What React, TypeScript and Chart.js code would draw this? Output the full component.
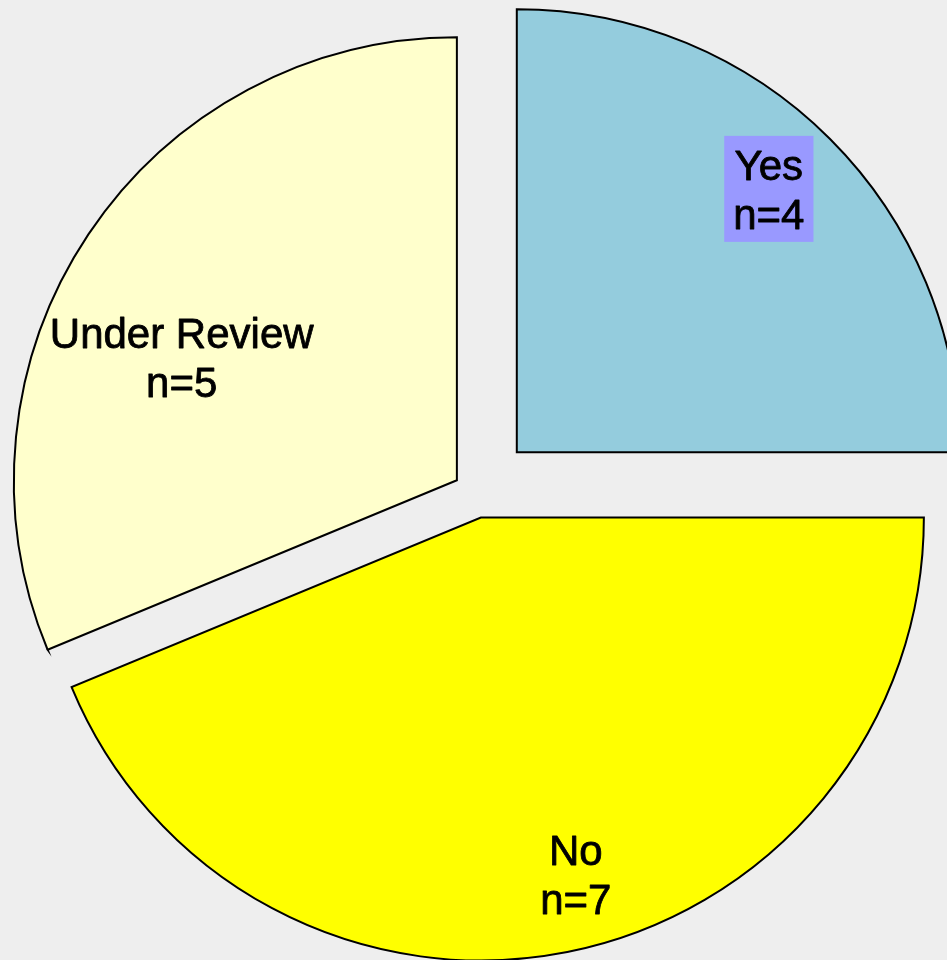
import React, { useEffect, useRef } from "react";
import { Chart, registerables } from "chart.js";

Chart.register(...registerables);

// ---- data ----
const categories = ["Yes", "No", "Under Review"];
const counts = [4, 7, 5];
const sliceColors = ["#94CCDD", "#FFFF00", "#FFFFCC"];
const labelBoxColors: (string | null)[] = ["#9999FF", null, null];

// ---- layout (not data) ----
const explodePx = [57.7, 25, 23];
const labelAngleDeg = [43.8, 165.1, 294];
const labelRadiusFrac = [0.822, 0.833, 0.68];
const FONT = '42px "Liberation Sans", Arial, sans-serif';

const explodePlugin = {
  id: "explodeSlices",
  afterDatasetUpdate(chart: any, args: any) {
    const meta = args.meta;
    meta.data.forEach((arc: any, i: number) => {
      const mid = (arc.startAngle + arc.endAngle) / 2;
      const d = explodePx[i] || 0;
      arc.x += Math.cos(mid) * d;
      arc.y += Math.sin(mid) * d;
    });
  },
};

const labelPlugin = {
  id: "sliceLabels",
  afterDatasetsDraw(chart: any) {
    const ctx = chart.ctx as CanvasRenderingContext2D;
    const meta = chart.getDatasetMeta(0);
    ctx.save();
    ctx.font = FONT;
    ctx.textAlign = "center";
    ctx.textBaseline = "alphabetic";
    meta.data.forEach((arc: any, i: number) => {
      const a = ((labelAngleDeg[i] - 90) * Math.PI) / 180;
      const r = arc.outerRadius * labelRadiusFrac[i];
      const cx = arc.x + Math.cos(a) * r;
      const cy = arc.y + Math.sin(a) * r;
      const lines = [categories[i], "n=" + counts[i]];
      const b1 = cy - 9.5;
      const b2 = cy + 39.5;
      const box = labelBoxColors[i];
      if (box) {
        const w = Math.max(...lines.map((l) => ctx.measureText(l).width));
        ctx.fillStyle = box;
        const top = b1 - 44;
        ctx.fillRect(cx - w / 2 - 9, top, w + 18, b2 + 13 - top);
      }
      ctx.fillStyle = "#000000";
      ctx.strokeStyle = "#000000";
      ctx.lineWidth = 0.8;
      ctx.lineJoin = "round";
      ctx.fillText(lines[0], cx, b1);
      ctx.strokeText(lines[0], cx, b1);
      ctx.fillText(lines[1], cx, b2);
      ctx.strokeText(lines[1], cx, b2);
    });
    ctx.restore();
  },
};

export default function App() {
  const ref = useRef<HTMLCanvasElement | null>(null);

  useEffect(() => {
    if (!ref.current) return;
    const chart = new Chart(ref.current, {
      type: "pie",
      data: {
        labels: categories,
        datasets: [
          {
            data: counts,
            backgroundColor: sliceColors,
            borderColor: "#000000",
            borderWidth: 2,
            borderJoinStyle: "miter",
            radius: 443,
            clip: false,
          } as any,
        ],
      },
      options: {
        animation: false,
        responsive: false,
        events: [],
        layout: { padding: { left: 5, top: 26, right: 0, bottom: 0 } },
        plugins: {
          legend: { display: false },
          tooltip: { enabled: false },
          title: { display: false },
        },
      } as any,
      plugins: [explodePlugin, labelPlugin],
    });
    return () => chart.destroy();
  }, []);

  return (
    <div
      style={{
        position: "fixed",
        left: 0,
        top: 0,
        width: 947,
        height: 960,
        background: "#EEEEEE",
        overflow: "hidden",
      }}
    >
      <canvas ref={ref} width={947} height={960} style={{ display: "block" }} />
    </div>
  );
}
